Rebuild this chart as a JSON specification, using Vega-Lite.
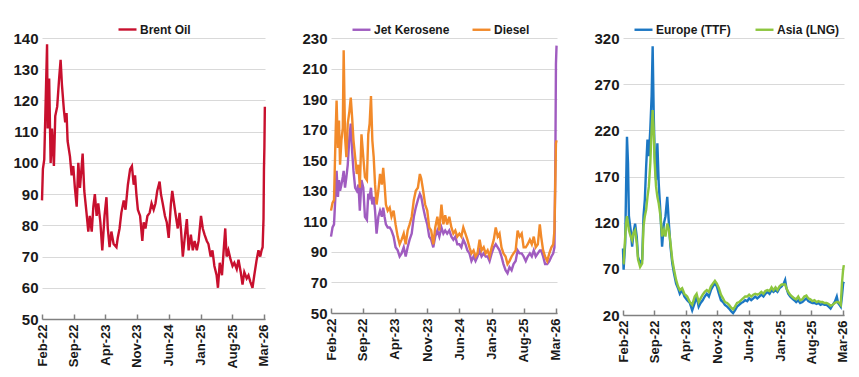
{
"$schema":"https://vega.github.io/schema/vega-lite/v6.json",
"padding":{"left":12,"top":19,"right":0,"bottom":0},
"background":"white",
"bounds":"flush",
"spacing":66,
"config":{
 "view":{"stroke":null},
 "font":"Liberation Sans",
 "line":{"strokeWidth":2.4},
 "axis":{"labelFont":"Liberation Sans","labelFontWeight":"bold","labelColor":"#1a1a1a","title":null},
 "axisY":{"domain":false,"ticks":false,"labelPadding":4,"labelFontSize":15,"labelOverlap":false,"gridColor":"#d9d9d9","gridWidth":1},
 "axisX":{"grid":false,"domainColor":"#808080","domainWidth":1.5,"tickColor":"#808080","tickWidth":1.5,"tickSize":-5,"labelAngle":-90,"labelFontSize":13,"labelPadding":10,"labelOverlap":false},
 "legend":{"orient":"none","direction":"horizontal","title":null,"symbolType":"stroke","symbolStrokeWidth":3,"symbolSize":324,"labelFont":"Liberation Sans","labelFontSize":12,"labelFontWeight":"bold","labelColor":"#1a1a1a","labelOffset":2,"legendY":-19}
},
"resolve":{"scale":{"color":"independent","x":"independent","y":"independent"}},
"datasets":{
"brent":[
{"d":"2022-02-01","v":88},{"d":"2022-02-07","v":98},{"d":"2022-02-16","v":101},{"d":"2022-03-07","v":138},{"d":"2022-03-11","v":111},{"d":"2022-03-21","v":127},{"d":"2022-03-31","v":100},{"d":"2022-04-09","v":111},{"d":"2022-04-22","v":99},{"d":"2022-05-01","v":115},{"d":"2022-05-14","v":118},{"d":"2022-05-27","v":127},{"d":"2022-06-06","v":133},{"d":"2022-06-15","v":125},{"d":"2022-06-28","v":117},{"d":"2022-07-07","v":113},{"d":"2022-07-16","v":116},{"d":"2022-07-23","v":107},{"d":"2022-08-08","v":102},{"d":"2022-08-19","v":96},{"d":"2022-08-30","v":99},{"d":"2022-09-10","v":92},{"d":"2022-09-22","v":86},{"d":"2022-10-03","v":100},{"d":"2022-10-14","v":92},{"d":"2022-11-01","v":103},{"d":"2022-11-12","v":91},{"d":"2022-11-27","v":84},{"d":"2022-12-09","v":78},{"d":"2022-12-19","v":83},{"d":"2023-01-01","v":78},{"d":"2023-01-12","v":86},{"d":"2023-01-22","v":90},{"d":"2023-02-03","v":83},{"d":"2023-02-14","v":87},{"d":"2023-02-28","v":81},{"d":"2023-03-13","v":72},{"d":"2023-03-28","v":83},{"d":"2023-04-10","v":89},{"d":"2023-04-19","v":79},{"d":"2023-05-01","v":73},{"d":"2023-05-13","v":78},{"d":"2023-05-28","v":74},{"d":"2023-06-16","v":73},{"d":"2023-06-25","v":76},{"d":"2023-07-07","v":79},{"d":"2023-07-19","v":84},{"d":"2023-08-04","v":88},{"d":"2023-08-16","v":85},{"d":"2023-09-01","v":93},{"d":"2023-09-16","v":98},{"d":"2023-09-28","v":99},{"d":"2023-10-10","v":93},{"d":"2023-10-19","v":96},{"d":"2023-10-28","v":90},{"d":"2023-11-07","v":85},{"d":"2023-11-22","v":83},{"d":"2023-12-07","v":75},{"d":"2023-12-16","v":81},{"d":"2023-12-28","v":79},{"d":"2024-01-10","v":83},{"d":"2024-01-25","v":84},{"d":"2024-02-07","v":87},{"d":"2024-02-21","v":85},{"d":"2024-03-04","v":87},{"d":"2024-03-16","v":91},{"d":"2024-04-01","v":94},{"d":"2024-04-10","v":90},{"d":"2024-04-22","v":87},{"d":"2024-05-07","v":83},{"d":"2024-05-19","v":81},{"d":"2024-06-01","v":76},{"d":"2024-06-16","v":87},{"d":"2024-06-25","v":91},{"d":"2024-07-07","v":87},{"d":"2024-07-19","v":83},{"d":"2024-08-01","v":79},{"d":"2024-08-13","v":84},{"d":"2024-08-22","v":79},{"d":"2024-09-04","v":70},{"d":"2024-09-19","v":77},{"d":"2024-10-01","v":82},{"d":"2024-10-13","v":72},{"d":"2024-10-28","v":77},{"d":"2024-11-10","v":72},{"d":"2024-11-22","v":75},{"d":"2024-12-07","v":72},{"d":"2024-12-19","v":75},{"d":"2025-01-04","v":83},{"d":"2025-01-16","v":79},{"d":"2025-01-28","v":77},{"d":"2025-02-12","v":75},{"d":"2025-02-23","v":74},{"d":"2025-03-10","v":70},{"d":"2025-03-22","v":72},{"d":"2025-04-04","v":67},{"d":"2025-04-19","v":64},{"d":"2025-04-28","v":60},{"d":"2025-05-10","v":68},{"d":"2025-05-25","v":64},{"d":"2025-06-04","v":71},{"d":"2025-06-16","v":79},{"d":"2025-06-25","v":70},{"d":"2025-07-07","v":72},{"d":"2025-07-22","v":69},{"d":"2025-08-04","v":67},{"d":"2025-08-16","v":68},{"d":"2025-09-01","v":66},{"d":"2025-09-13","v":69},{"d":"2025-09-28","v":65},{"d":"2025-10-10","v":61},{"d":"2025-10-22","v":65},{"d":"2025-11-07","v":63},{"d":"2025-11-19","v":64},{"d":"2025-12-01","v":62},{"d":"2025-12-16","v":60},{"d":"2025-12-28","v":64},{"d":"2026-01-13","v":69},{"d":"2026-01-25","v":72},{"d":"2026-02-06","v":70},{"d":"2026-02-15","v":72},{"d":"2026-02-22","v":73},{"d":"2026-02-28","v":82},{"d":"2026-03-03","v":98},{"d":"2026-03-06","v":105},{"d":"2026-03-09","v":118}
],
"fuel":[
{"d":"2022-02-01","jet":100,"diesel":117},{"d":"2022-02-11","jet":106,"diesel":122},{"d":"2022-02-21","jet":108,"diesel":124},{"d":"2022-03-04","jet":130,"diesel":169},{"d":"2022-03-10","jet":143,"diesel":189},{"d":"2022-03-19","jet":126,"diesel":158},{"d":"2022-03-26","jet":137,"diesel":176},{"d":"2022-04-02","jet":130,"diesel":147},{"d":"2022-04-11","jet":134,"diesel":163},{"d":"2022-04-20","jet":139,"diesel":171},{"d":"2022-04-26","jet":143,"diesel":222},{"d":"2022-05-05","jet":132,"diesel":165},{"d":"2022-05-14","jet":139,"diesel":152},{"d":"2022-05-23","jet":147,"diesel":174},{"d":"2022-06-03","jet":165,"diesel":182},{"d":"2022-06-12","jet":174,"diesel":191},{"d":"2022-06-21","jet":156,"diesel":178},{"d":"2022-06-30","jet":143,"diesel":163},{"d":"2022-07-11","jet":132,"diesel":152},{"d":"2022-07-22","jet":130,"diesel":141},{"d":"2022-08-02","jet":134,"diesel":147},{"d":"2022-08-11","jet":117,"diesel":132},{"d":"2022-08-22","jet":137,"diesel":167},{"d":"2022-09-03","jet":132,"diesel":152},{"d":"2022-09-14","jet":113,"diesel":139},{"d":"2022-09-27","jet":111,"diesel":137},{"d":"2022-10-06","jet":128,"diesel":167},{"d":"2022-10-15","jet":126,"diesel":174},{"d":"2022-10-24","jet":132,"diesel":192},{"d":"2022-11-02","jet":121,"diesel":163},{"d":"2022-11-11","jet":126,"diesel":152},{"d":"2022-11-20","jet":117,"diesel":134},{"d":"2022-11-30","jet":102,"diesel":121},{"d":"2022-12-12","jet":113,"diesel":130},{"d":"2022-12-23","jet":117,"diesel":141},{"d":"2023-01-04","jet":113,"diesel":134},{"d":"2023-01-13","jet":119,"diesel":145},{"d":"2023-01-22","jet":113,"diesel":134},{"d":"2023-01-31","jet":108,"diesel":121},{"d":"2023-02-12","jet":106,"diesel":117},{"d":"2023-02-25","jet":106,"diesel":119},{"d":"2023-03-09","jet":104,"diesel":113},{"d":"2023-03-23","jet":100,"diesel":117},{"d":"2023-04-05","jet":93,"diesel":108},{"d":"2023-04-19","jet":91,"diesel":100},{"d":"2023-05-02","jet":87,"diesel":95},{"d":"2023-05-15","jet":89,"diesel":98},{"d":"2023-05-29","jet":93,"diesel":102},{"d":"2023-06-11","jet":87,"diesel":95},{"d":"2023-06-24","jet":93,"diesel":104},{"d":"2023-07-07","jet":98,"diesel":108},{"d":"2023-07-21","jet":102,"diesel":113},{"d":"2023-08-04","jet":113,"diesel":124},{"d":"2023-08-17","jet":119,"diesel":130},{"d":"2023-08-31","jet":124,"diesel":132},{"d":"2023-09-13","jet":128,"diesel":141},{"d":"2023-09-22","jet":126,"diesel":138},{"d":"2023-10-05","jet":119,"diesel":130},{"d":"2023-10-18","jet":113,"diesel":121},{"d":"2023-11-01","jet":108,"diesel":117},{"d":"2023-11-14","jet":100,"diesel":106},{"d":"2023-11-27","jet":98,"diesel":104},{"d":"2023-12-11","jet":93,"diesel":95},{"d":"2023-12-24","jet":100,"diesel":106},{"d":"2024-01-07","jet":104,"diesel":113},{"d":"2024-01-20","jet":100,"diesel":104},{"d":"2024-02-03","jet":106,"diesel":121},{"d":"2024-02-16","jet":102,"diesel":108},{"d":"2024-02-28","jet":104,"diesel":114},{"d":"2024-03-12","jet":102,"diesel":108},{"d":"2024-03-26","jet":104,"diesel":113},{"d":"2024-04-09","jet":100,"diesel":106},{"d":"2024-04-22","jet":98,"diesel":102},{"d":"2024-05-05","jet":100,"diesel":104},{"d":"2024-05-18","jet":95,"diesel":100},{"d":"2024-06-01","jet":95,"diesel":102},{"d":"2024-06-14","jet":93,"diesel":100},{"d":"2024-06-27","jet":98,"diesel":106},{"d":"2024-07-11","jet":95,"diesel":102},{"d":"2024-07-24","jet":91,"diesel":98},{"d":"2024-08-07","jet":89,"diesel":93},{"d":"2024-08-20","jet":84,"diesel":89},{"d":"2024-09-03","jet":87,"diesel":91},{"d":"2024-09-16","jet":84,"diesel":87},{"d":"2024-09-29","jet":87,"diesel":89},{"d":"2024-10-13","jet":91,"diesel":98},{"d":"2024-10-26","jet":87,"diesel":91},{"d":"2024-11-09","jet":89,"diesel":93},{"d":"2024-11-22","jet":87,"diesel":89},{"d":"2024-12-05","jet":87,"diesel":91},{"d":"2024-12-18","jet":84,"diesel":87},{"d":"2025-01-01","jet":89,"diesel":93},{"d":"2025-01-15","jet":93,"diesel":98},{"d":"2025-01-28","jet":95,"diesel":106},{"d":"2025-02-10","jet":93,"diesel":100},{"d":"2025-02-22","jet":91,"diesel":102},{"d":"2025-03-07","jet":87,"diesel":93},{"d":"2025-03-20","jet":82,"diesel":89},{"d":"2025-04-03","jet":78,"diesel":87},{"d":"2025-04-16","jet":76,"diesel":82},{"d":"2025-04-29","jet":80,"diesel":84},{"d":"2025-05-13","jet":78,"diesel":87},{"d":"2025-05-26","jet":82,"diesel":89},{"d":"2025-06-09","jet":84,"diesel":91},{"d":"2025-06-22","jet":91,"diesel":104},{"d":"2025-07-05","jet":89,"diesel":100},{"d":"2025-07-19","jet":89,"diesel":102},{"d":"2025-08-01","jet":87,"diesel":93},{"d":"2025-08-15","jet":84,"diesel":93},{"d":"2025-08-28","jet":87,"diesel":95},{"d":"2025-09-11","jet":89,"diesel":98},{"d":"2025-09-24","jet":87,"diesel":95},{"d":"2025-10-07","jet":91,"diesel":100},{"d":"2025-10-20","jet":87,"diesel":93},{"d":"2025-11-03","jet":89,"diesel":95},{"d":"2025-11-16","jet":91,"diesel":108},{"d":"2025-11-25","jet":91,"diesel":100},{"d":"2025-12-08","jet":87,"diesel":91},{"d":"2025-12-21","jet":82,"diesel":87},{"d":"2026-01-04","jet":82,"diesel":84},{"d":"2026-01-18","jet":84,"diesel":89},{"d":"2026-02-01","jet":87,"diesel":93},{"d":"2026-02-13","jet":89,"diesel":95},{"d":"2026-02-21","jet":93,"diesel":104},{"d":"2026-02-27","jet":147,"diesel":137},{"d":"2026-03-03","jet":213,"diesel":161},{"d":"2026-03-07","jet":225,"diesel":163}
],
"gas":[
{"d":"2022-02-01","ttf":92,"lng":76},{"d":"2022-02-05","ttf":69,"lng":76},{"d":"2022-02-16","ttf":98,"lng":105},{"d":"2022-02-22","ttf":159,"lng":119},{"d":"2022-02-28","ttf":213,"lng":127},{"d":"2022-03-07","ttf":184,"lng":119},{"d":"2022-03-13","ttf":127,"lng":112},{"d":"2022-03-25","ttf":112,"lng":105},{"d":"2022-04-04","ttf":94,"lng":101},{"d":"2022-04-13","ttf":109,"lng":109},{"d":"2022-04-24","ttf":119,"lng":112},{"d":"2022-05-05","ttf":105,"lng":98},{"d":"2022-05-14","ttf":83,"lng":80},{"d":"2022-05-28","ttf":76,"lng":72},{"d":"2022-06-11","ttf":80,"lng":76},{"d":"2022-06-20","ttf":127,"lng":116},{"d":"2022-06-29","ttf":145,"lng":127},{"d":"2022-07-08","ttf":181,"lng":134},{"d":"2022-07-17","ttf":210,"lng":148},{"d":"2022-07-26","ttf":192,"lng":159},{"d":"2022-08-05","ttf":221,"lng":184},{"d":"2022-08-14","ttf":257,"lng":221},{"d":"2022-08-21","ttf":311,"lng":242},{"d":"2022-08-28","ttf":239,"lng":221},{"d":"2022-09-04","ttf":192,"lng":184},{"d":"2022-09-13","ttf":166,"lng":159},{"d":"2022-09-22","ttf":206,"lng":148},{"d":"2022-10-01","ttf":163,"lng":141},{"d":"2022-10-13","ttf":130,"lng":127},{"d":"2022-10-24","ttf":94,"lng":105},{"d":"2022-11-05","ttf":119,"lng":112},{"d":"2022-11-16","ttf":127,"lng":105},{"d":"2022-11-28","ttf":148,"lng":119},{"d":"2022-12-09","ttf":119,"lng":112},{"d":"2022-12-20","ttf":94,"lng":98},{"d":"2023-01-01","ttf":76,"lng":80},{"d":"2023-01-13","ttf":65,"lng":69},{"d":"2023-01-27","ttf":54,"lng":58},{"d":"2023-02-09","ttf":49,"lng":51},{"d":"2023-02-21","ttf":43,"lng":47},{"d":"2023-03-09","ttf":47,"lng":49},{"d":"2023-03-24","ttf":40,"lng":43},{"d":"2023-04-12","ttf":36,"lng":40},{"d":"2023-04-30","ttf":33,"lng":34},{"d":"2023-05-16","ttf":25,"lng":31},{"d":"2023-06-02","ttf":33,"lng":40},{"d":"2023-06-15","ttf":40,"lng":43},{"d":"2023-06-29","ttf":29,"lng":34},{"d":"2023-07-12","ttf":33,"lng":38},{"d":"2023-07-26","ttf":36,"lng":42},{"d":"2023-08-09","ttf":40,"lng":45},{"d":"2023-08-23","ttf":43,"lng":47},{"d":"2023-09-06","ttf":40,"lng":45},{"d":"2023-09-20","ttf":47,"lng":51},{"d":"2023-10-03","ttf":51,"lng":54},{"d":"2023-10-17","ttf":54,"lng":57},{"d":"2023-10-30","ttf":51,"lng":54},{"d":"2023-11-13","ttf":43,"lng":49},{"d":"2023-11-27","ttf":36,"lng":42},{"d":"2023-12-11","ttf":34,"lng":38},{"d":"2023-12-24","ttf":31,"lng":34},{"d":"2024-01-08","ttf":29,"lng":33},{"d":"2024-01-21","ttf":27,"lng":31},{"d":"2024-02-04","ttf":24,"lng":28},{"d":"2024-02-17","ttf":22,"lng":26},{"d":"2024-03-01","ttf":25,"lng":29},{"d":"2024-03-15","ttf":29,"lng":33},{"d":"2024-03-29","ttf":31,"lng":34},{"d":"2024-04-12","ttf":33,"lng":36},{"d":"2024-04-25","ttf":34,"lng":38},{"d":"2024-05-09","ttf":36,"lng":40},{"d":"2024-05-23","ttf":35,"lng":40},{"d":"2024-06-05","ttf":38,"lng":42},{"d":"2024-06-19","ttf":36,"lng":40},{"d":"2024-07-03","ttf":38,"lng":42},{"d":"2024-07-16","ttf":40,"lng":43},{"d":"2024-07-30","ttf":38,"lng":42},{"d":"2024-08-13","ttf":40,"lng":43},{"d":"2024-08-27","ttf":42,"lng":45},{"d":"2024-09-10","ttf":40,"lng":43},{"d":"2024-09-23","ttf":43,"lng":46},{"d":"2024-10-07","ttf":45,"lng":47},{"d":"2024-10-21","ttf":43,"lng":46},{"d":"2024-11-04","ttf":47,"lng":50},{"d":"2024-11-17","ttf":45,"lng":47},{"d":"2024-12-01","ttf":47,"lng":50},{"d":"2024-12-14","ttf":45,"lng":47},{"d":"2024-12-28","ttf":49,"lng":51},{"d":"2025-01-11","ttf":51,"lng":53},{"d":"2025-01-25","ttf":54,"lng":53},{"d":"2025-02-04","ttf":58,"lng":53},{"d":"2025-02-13","ttf":49,"lng":49},{"d":"2025-02-25","ttf":43,"lng":45},{"d":"2025-03-10","ttf":40,"lng":42},{"d":"2025-03-23","ttf":38,"lng":40},{"d":"2025-04-07","ttf":36,"lng":38},{"d":"2025-04-20","ttf":34,"lng":37},{"d":"2025-05-04","ttf":36,"lng":40},{"d":"2025-05-17","ttf":33,"lng":36},{"d":"2025-06-01","ttf":34,"lng":37},{"d":"2025-06-14","ttf":36,"lng":40},{"d":"2025-06-28","ttf":38,"lng":41},{"d":"2025-07-11","ttf":35,"lng":38},{"d":"2025-07-25","ttf":34,"lng":37},{"d":"2025-08-08","ttf":33,"lng":35},{"d":"2025-08-22","ttf":33,"lng":36},{"d":"2025-09-05","ttf":32,"lng":34},{"d":"2025-09-18","ttf":33,"lng":35},{"d":"2025-10-02","ttf":31,"lng":34},{"d":"2025-10-16","ttf":32,"lng":34},{"d":"2025-10-29","ttf":31,"lng":33},{"d":"2025-11-12","ttf":31,"lng":33},{"d":"2025-11-26","ttf":29,"lng":32},{"d":"2025-12-09","ttf":27,"lng":30},{"d":"2025-12-23","ttf":31,"lng":31},{"d":"2026-01-06","ttf":34,"lng":33},{"d":"2026-01-20","ttf":40,"lng":34},{"d":"2026-01-29","ttf":33,"lng":34},{"d":"2026-02-07","ttf":31,"lng":33},{"d":"2026-02-16","ttf":29,"lng":31},{"d":"2026-02-24","ttf":40,"lng":54},{"d":"2026-03-04","ttf":54,"lng":69},{"d":"2026-03-09","ttf":56,"lng":74}
]
},
"hconcat":[
{
 "width":223,"height":281,
 "data":{"name":"brent"},
 "mark":{"type":"line"},
 "encoding":{
  "x":{"field":"d","type":"temporal","scale":{"type":"utc","domain":[{"year":2022,"month":2,"date":1,"utc":true},{"year":2026,"month":3,"date":10,"utc":true}]},"axis":{"format":"%b-%y","values":[{"year":2022,"month":2,"date":1,"utc":true},{"year":2022,"month":9,"date":1,"utc":true},{"year":2023,"month":4,"date":1,"utc":true},{"year":2023,"month":11,"date":1,"utc":true},{"year":2024,"month":6,"date":1,"utc":true},{"year":2025,"month":1,"date":1,"utc":true},{"year":2025,"month":8,"date":1,"utc":true},{"year":2026,"month":3,"date":1,"utc":true}]}},
  "y":{"field":"v","type":"quantitative","scale":{"domain":[50,140],"nice":false,"zero":false},"axis":{"values":[50,60,70,80,90,100,110,120,130,140]}},
  "color":{"datum":"Brent Oil","scale":{"domain":["Brent Oil"],"range":["#C8102E"]},"legend":{"legendX":75}}
 }
},
{
 "width":226,"height":275,
 "data":{"name":"fuel"},
 "encoding":{
  "x":{"field":"d","type":"temporal","scale":{"type":"utc","domain":[{"year":2022,"month":2,"date":1,"utc":true},{"year":2026,"month":3,"date":10,"utc":true}]},"axis":{"format":"%b-%y","values":[{"year":2022,"month":2,"date":1,"utc":true},{"year":2022,"month":9,"date":1,"utc":true},{"year":2023,"month":4,"date":1,"utc":true},{"year":2023,"month":11,"date":1,"utc":true},{"year":2024,"month":6,"date":1,"utc":true},{"year":2025,"month":1,"date":1,"utc":true},{"year":2025,"month":8,"date":1,"utc":true},{"year":2026,"month":3,"date":1,"utc":true}]}}
 },
 "layer":[
  {"mark":{"type":"line"},"encoding":{"y":{"field":"jet","type":"quantitative","title":null,"scale":{"domain":[50,230],"nice":false,"zero":false},"axis":{"values":[50,70,90,110,130,150,170,190,210,230],"labelOverlap":false}},"color":{"datum":"Jet Kerosene","scale":{"domain":["Jet Kerosene","Diesel"],"range":["#A05CC0","#F28A2A"]},"legend":{"legendX":20,"columnPadding":17}}}},
  {"mark":{"type":"line"},"encoding":{"y":{"field":"diesel","type":"quantitative","title":null,"axis":{"values":[50,70,90,110,130,150,170,190,210,230],"labelOverlap":false}},"color":{"datum":"Diesel"}}}
 ]
},
{
 "width":221,"height":277,
 "data":{"name":"gas"},
 "encoding":{
  "x":{"field":"d","type":"temporal","scale":{"type":"utc","domain":[{"year":2022,"month":2,"date":1,"utc":true},{"year":2026,"month":3,"date":10,"utc":true}]},"axis":{"format":"%b-%y","values":[{"year":2022,"month":2,"date":1,"utc":true},{"year":2022,"month":9,"date":1,"utc":true},{"year":2023,"month":4,"date":1,"utc":true},{"year":2023,"month":11,"date":1,"utc":true},{"year":2024,"month":6,"date":1,"utc":true},{"year":2025,"month":1,"date":1,"utc":true},{"year":2025,"month":8,"date":1,"utc":true},{"year":2026,"month":3,"date":1,"utc":true}]}}
 },
 "layer":[
  {"mark":{"type":"line"},"encoding":{"y":{"field":"ttf","type":"quantitative","title":null,"scale":{"domain":[20,320],"nice":false,"zero":false},"axis":{"values":[20,70,120,170,220,270,320]}},"color":{"datum":"Europe (TTF)","scale":{"domain":["Europe (TTF)","Asia (LNG)"],"range":["#1C77C3","#8DC63F"]},"legend":{"legendX":10,"columnPadding":19}}}},
  {"mark":{"type":"line"},"encoding":{"y":{"field":"lng","type":"quantitative","title":null,"axis":{"values":[20,70,120,170,220,270,320]}},"color":{"datum":"Asia (LNG)"}}}
 ]
}
]
}
